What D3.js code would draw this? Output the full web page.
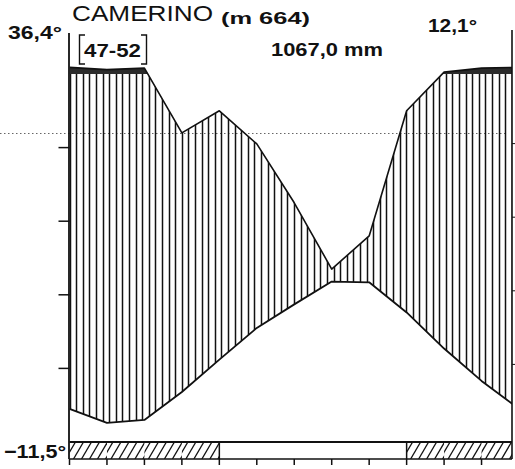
<!DOCTYPE html>
<html>
<head>
<meta charset="utf-8">
<script src="https://cdn.jsdelivr.net/npm/d3@7"></script>
<style>
  html, body { margin: 0; padding: 0; background: #fff; }
  svg { display: block; }
  text { font-family: "Liberation Sans", Arial, sans-serif; fill: #111; }
</style>
</head>
<body>
<svg id="chart" width="515" height="469"></svg>
<script>
// ---- data ----
const months = ["Jan","Feb","Mar","Apr","May","Jun","Jul","Aug","Sep","Oct","Nov","Dec"];
const temperature = [2.6, 3.0, 6.8, 11.2, 15.5, 18.7, 21.8, 21.7, 17.6, 12.7, 8.3, 4.5];   // °C
const precipitation = [112, 116, 84, 90, 81, 65, 47, 56, 90, 105, 116, 118];            // mm
const frostMonths = [1, 1, 1, 1, 0, 0, 0, 0, 0, 1, 1, 1];                                // probable frost
const tempTicks = [10, 20, 30, 40];
const station = "CAMERINO";
const altitude = "(m 664)";
const period = "47-52";
const annualPrec = "1067,0 mm";
const annualTemp = "12,1°";
const absMax = "36,4°";
const absMin = "−11,5°";

// ---- layout ----
const svg = d3.select("#chart");
const left = 69.5, right = 512, baseY = 442, barBottom = 459;

const x = d3.scaleLinear().domain([0, 12]).range([left, 519]);
const yT = d3.scaleLinear().domain([0, 50]).range([baseY, 74]);
const yP = d3.scaleLinear().domain([0, 100, 300]).range([baseY, 74, 0.4]);

// series: December repeated at the start (cyclic year)
const series = [{ pos: 0, t: temperature[11], p: precipitation[11] }]
  .concat(months.map((m, i) => ({ pos: i + 1, t: temperature[i], p: precipitation[i] })));

const defs = svg.append("defs");
defs.append("clipPath").attr("id", "plotClip")
  .append("rect").attr("x", left).attr("y", 0).attr("width", right - left).attr("height", baseY);
defs.append("clipPath").attr("id", "wetClip")
  .append("rect").attr("x", left).attr("y", 0).attr("width", right - left).attr("height", yP(100));

const humidArea = d3.area().x(d => x(d.pos)).y0(d => yT(d.t)).y1(d => yP(d.p));
defs.append("clipPath").attr("id", "humidClip")
  .append("path").attr("d", humidArea(series));

// faint dotted scan line
svg.append("line").attr("x1", 0).attr("x2", 506).attr("y1", 133.5).attr("y2", 133.5)
  .attr("stroke", "#666").attr("stroke-width", 1).attr("stroke-dasharray", "1.5 2.5");

const plot = svg.append("g").attr("clip-path", "url(#plotClip)");

// humid period: vertical hatching between the curves (below 100 mm)
const hatch = plot.append("g").attr("clip-path", "url(#humidClip)");
hatch.selectAll("line").data(d3.range(0, 68).map(k => Math.round(left + k * 6.6) + 0.5)).join("line")
  .attr("x1", d => d).attr("x2", d => d)
  .attr("y1", yP(100)).attr("y2", baseY)
  .attr("stroke", "#111").attr("stroke-width", 1.5);

// > 100 mm: black band (area between 100 mm line and the curve, kept above 100 mm)
const wetArea = d3.area().x(d => x(d.pos)).y0(yP(100)).y1(d => yP(d.p));
plot.append("g").attr("clip-path", "url(#wetClip)")
  .append("path").attr("d", wetArea(series)).attr("fill", "#2b2b2b");

// curves
const lineP = d3.line().x(d => x(d.pos)).y(d => yP(d.p));
const lineT = d3.line().x(d => x(d.pos)).y(d => yT(d.t));
plot.append("path").attr("d", lineP(series)).attr("fill", "none")
  .attr("stroke", "#111").attr("stroke-width", 1.6).attr("stroke-linejoin", "round");
plot.append("path").attr("d", lineT(series)).attr("fill", "none")
  .attr("stroke", "#111").attr("stroke-width", 1.8).attr("stroke-linejoin", "round");

// axes
svg.append("line").attr("x1", left - 0.5).attr("x2", left - 0.5).attr("y1", 33).attr("y2", barBottom)
  .attr("stroke", "#111").attr("stroke-width", 1.8);
svg.append("line").attr("x1", right).attr("x2", right).attr("y1", 30).attr("y2", barBottom)
  .attr("stroke", "#111").attr("stroke-width", 1.6);
svg.selectAll(".tl").data(tempTicks).join("line").attr("class", "tl")
  .attr("x1", left - 11).attr("x2", left).attr("y1", d => yT(d)).attr("y2", d => yT(d))
  .attr("stroke", "#111").attr("stroke-width", 1.5);
svg.selectAll(".tr").data(tempTicks).join("line").attr("class", "tr")
  .attr("x1", right).attr("x2", right + 3).attr("y1", d => yT(d) - 4).attr("y2", d => yT(d) - 4)
  .attr("stroke", "#111").attr("stroke-width", 1);

// frost bar
const bar = svg.append("g");
defs.selectAll(".fc").data(frostMonths.map((f, i) => ({ f, i })).filter(d => d.f)).join("clipPath")
  .attr("class", "fc").attr("id", d => "fc" + d.i)
  .append("rect")
  .attr("x", d => x(d.i)).attr("y", baseY)
  .attr("width", d => Math.min(x(d.i + 1), right) - x(d.i)).attr("height", barBottom - baseY);
frostMonths.forEach((f, i) => {
  if (!f) return;
  const x0 = x(i), x1 = Math.min(x(i + 1), right);
  bar.append("g").attr("clip-path", `url(#fc${i})`)
    .selectAll("line").data(d3.range(x0 - 12, x1 + 4, 8)).join("line")
    .attr("x1", d => d).attr("y1", barBottom).attr("x2", d => d + 10).attr("y2", baseY)
    .attr("stroke", "#111").attr("stroke-width", 1.3);
});
// boundaries between frost / frost-free months
frostMonths.forEach((f, i) => {
  if (i > 0 && f !== frostMonths[i - 1]) {
    bar.append("line").attr("x1", x(i)).attr("x2", x(i)).attr("y1", baseY).attr("y2", barBottom)
      .attr("stroke", "#111").attr("stroke-width", 1.5);
  }
});
bar.append("line").attr("x1", left).attr("x2", right).attr("y1", baseY).attr("y2", baseY)
  .attr("stroke", "#111").attr("stroke-width", 2);
bar.append("line").attr("x1", left).attr("x2", right).attr("y1", barBottom).attr("y2", barBottom)
  .attr("stroke", "#111").attr("stroke-width", 1.5);
bar.selectAll(".mt").data(d3.range(0, 12)).join("line").attr("class", "mt")
  .attr("x1", d => x(d)).attr("x2", d => x(d)).attr("y1", barBottom).attr("y2", barBottom + 6)
  .attr("stroke", "#111").attr("stroke-width", 1.5);

// texts
svg.append("text").attr("x", 72).attr("y", 21).attr("font-size", 22)
  .attr("textLength", 141).attr("lengthAdjust", "spacingAndGlyphs").text(station);
svg.append("text").attr("x", 221).attr("y", 24).attr("font-size", 17).attr("font-weight", "bold")
  .attr("textLength", 89).attr("lengthAdjust", "spacingAndGlyphs").text(altitude);
svg.append("text").attr("x", 8).attr("y", 39).attr("font-size", 19).attr("font-weight", "bold")
  .attr("textLength", 54).attr("lengthAdjust", "spacingAndGlyphs").text(absMax);
svg.append("text").attr("x", 428).attr("y", 32).attr("font-size", 19).attr("font-weight", "bold")
  .attr("textLength", 49).attr("lengthAdjust", "spacingAndGlyphs").text(annualTemp);
svg.append("text").attr("x", 271).attr("y", 56).attr("font-size", 18).attr("font-weight", "bold")
  .attr("textLength", 112).attr("lengthAdjust", "spacingAndGlyphs").text(annualPrec);
svg.append("text").attr("x", 4).attr("y", 458).attr("font-size", 19).attr("font-weight", "bold")
  .attr("textLength", 62).attr("lengthAdjust", "spacingAndGlyphs").text(absMin);
svg.append("text").attr("x", 84).attr("y", 57).attr("font-size", 19).attr("font-weight", "bold")
  .attr("textLength", 57).attr("lengthAdjust", "spacingAndGlyphs").text(period);
// brackets around the observation period
const br = d3.path();
br.moveTo(85, 35); br.lineTo(79.5, 35); br.lineTo(79.5, 64); br.lineTo(85, 64);
br.moveTo(141, 35); br.lineTo(146.5, 35); br.lineTo(146.5, 64); br.lineTo(141, 64);
svg.append("path").attr("d", br.toString()).attr("fill", "none")
  .attr("stroke", "#111").attr("stroke-width", 1.4);
</script>
</body>
</html>
